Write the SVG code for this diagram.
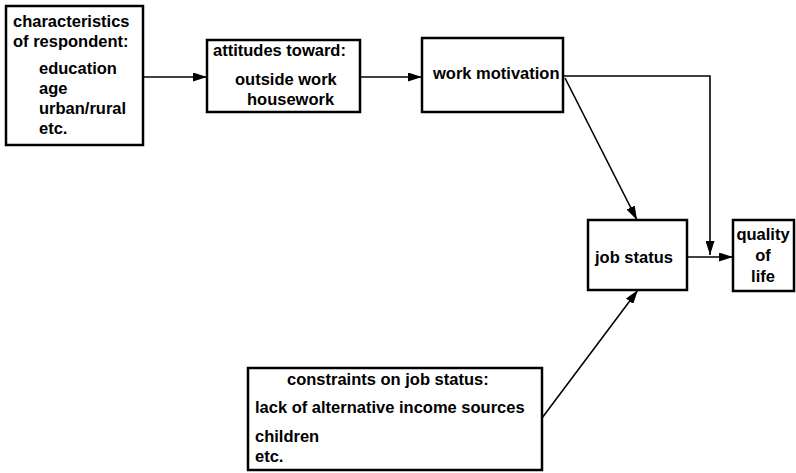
<svg xmlns="http://www.w3.org/2000/svg" width="796" height="473" viewBox="0 0 796 473">
<style>
.box{fill:#fff;stroke:#000;stroke-width:2.5}
.t{font-family:"Liberation Sans",Arial,sans-serif;font-size:16.5px;font-weight:bold;fill:#000}
.c{fill:none;stroke:#000;stroke-width:1.6}
</style>
<defs>
<marker id="ah" viewBox="0 0 14 9" refX="14" refY="4.5" markerWidth="14" markerHeight="9" markerUnits="userSpaceOnUse" orient="auto">
<path d="M0,0 L14,4.5 L0,9 Z" fill="#000"/>
</marker>
</defs>
<rect width="796" height="473" fill="#fff"/>
<g id="connectors">
<line class="c" x1="143" y1="77" x2="207" y2="77" marker-end="url(#ah)"/>
<line class="c" x1="360" y1="77" x2="422" y2="77" marker-end="url(#ah)"/>
<polyline class="c" points="563,76 710,76 710,255" marker-end="url(#ah)"/>
<line class="c" x1="565" y1="78" x2="637" y2="220" marker-end="url(#ah)"/>
<line class="c" x1="687" y1="257" x2="733" y2="257" marker-end="url(#ah)"/>
<line class="c" x1="542" y1="418" x2="638" y2="290" marker-end="url(#ah)"/>
</g>
<g id="respondent">
<rect class="box" x="6" y="6" width="137" height="139"/>
<text class="t" x="13" y="27">characteristics</text>
<text class="t" x="13" y="47">of respondent:</text>
<text class="t" x="39" y="74">education</text>
<text class="t" x="39" y="94">age</text>
<text class="t" x="39" y="114">urban/rural</text>
<text class="t" x="39" y="134">etc.</text>
</g>
<g id="attitudes">
<rect class="box" x="207" y="40" width="153" height="72"/>
<text class="t" x="213" y="56">attitudes toward:</text>
<text class="t" x="235" y="85">outside work</text>
<text class="t" x="247" y="105">housework</text>
</g>
<g id="motivation">
<rect class="box" x="422" y="38" width="141" height="74"/>
<text class="t" x="433" y="79">work motivation</text>
</g>
<g id="jobstatus">
<rect class="box" x="588" y="220" width="99" height="70"/>
<text class="t" x="595" y="263">job status</text>
</g>
<g id="quality">
<rect class="box" x="733" y="220" width="61" height="71"/>
<text class="t" x="763" y="240" text-anchor="middle">quality</text>
<text class="t" x="763" y="261" text-anchor="middle">of</text>
<text class="t" x="763" y="282" text-anchor="middle">life</text>
</g>
<g id="constraints">
<rect class="box" x="248" y="368" width="294" height="102"/>
<text class="t" x="287" y="385">constraints on job status:</text>
<text class="t" x="255" y="413">lack of alternative income sources</text>
<text class="t" x="255" y="442">children</text>
<text class="t" x="255" y="462">etc.</text>
</g>
</svg>
